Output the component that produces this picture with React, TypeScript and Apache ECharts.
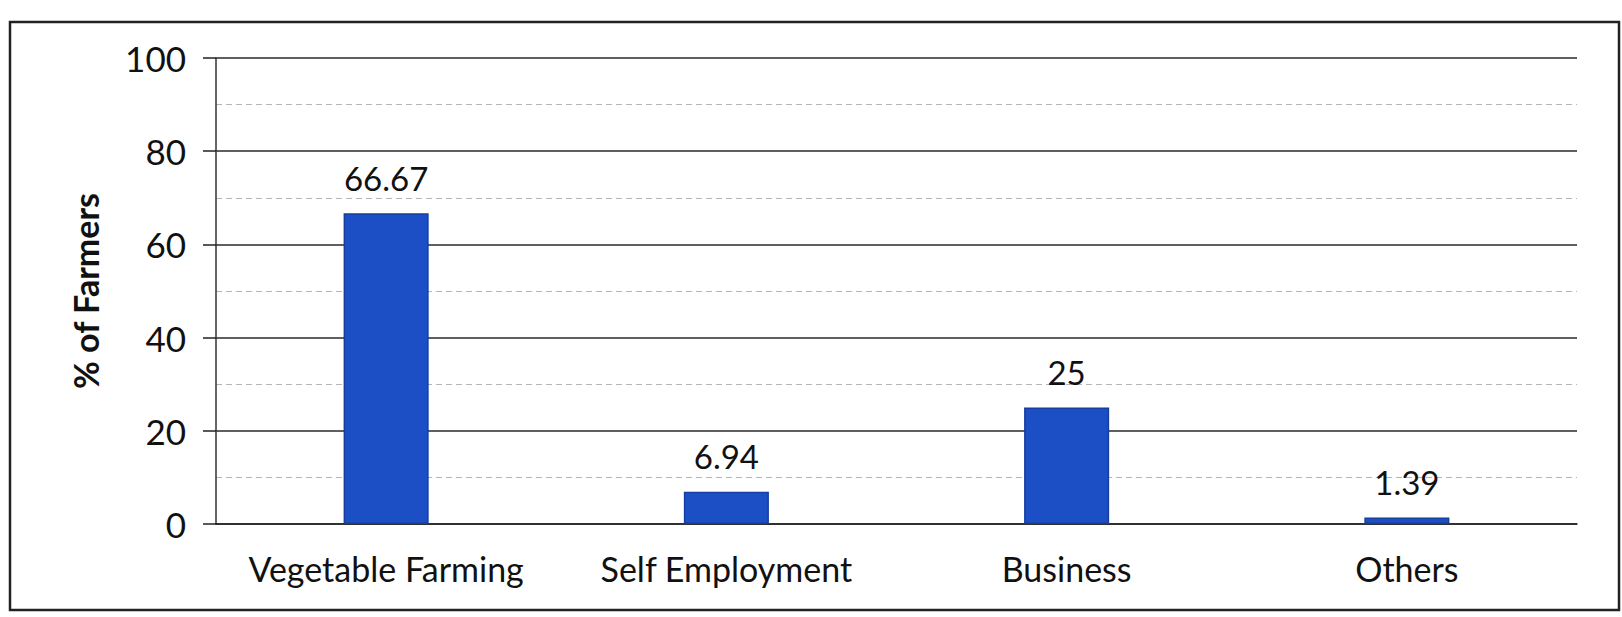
import React, { useEffect, useRef } from "react";
import * as echarts from "echarts";

const categories = ["Vegetable Farming", "Self Employment", "Business", "Others"];
const values = [66.67, 6.94, 25, 1.39];
const valueLabels = ["66.67", "6.94", "25", "1.39"];
const yTicks = [0, 20, 40, 60, 80, 100];
const yTitle = "% of Farmers";

export default function App() {
  const ref = useRef<HTMLDivElement>(null);
  useEffect(() => {
    if (!ref.current) return;
    const chart = echarts.init(ref.current, null, { renderer: "svg" });
    const font = "Lato, 'Open Sans', sans-serif";
    chart.setOption({
      animation: false,
      backgroundColor: "#ffffff",
      textStyle: { fontFamily: font },
      graphic: [
        {
          type: "rect",
          shape: { x: 10, y: 22, width: 1609, height: 588 },
          style: { fill: "none", stroke: "#222", lineWidth: 2.5 },
          z: -1,
        },
      ],
      grid: { left: 216, right: 45, top: 58, bottom: 93, containLabel: false },
      xAxis: {
        type: "category",
        data: categories,
        axisLine: { show: true, lineStyle: { color: "#222", width: 1.5 } },
        axisTick: { show: false },
        axisLabel: {
          color: "#111",
          fontSize: 34,
          margin: 27,
          interval: 0,
          hideOverlap: false,
          fontFamily: font,
        },
      },
      yAxis: {
        type: "value",
        min: yTicks[0],
        max: yTicks[yTicks.length - 1],
        interval: 20,
        name: yTitle,
        nameLocation: "middle",
        nameGap: 114,
        nameRotate: 90,
        nameTextStyle: { fontSize: 34, fontWeight: "bold", color: "#111", fontFamily: font },
        axisLine: { show: true, lineStyle: { color: "#333", width: 1.5 } },
        axisTick: { show: true, inside: false, length: 13, lineStyle: { color: "#222", width: 1.5 } },
        axisLabel: { color: "#111", fontSize: 35, margin: 30, fontFamily: font },
        splitLine: { show: true, lineStyle: { color: "#2a2a2a", width: 1.5 } },
        minorTick: { show: false, splitNumber: 2 },
        minorSplitLine: { show: true, lineStyle: { color: "#b5b5b5", width: 1, type: [6, 4] } },
      },
      series: [
        {
          type: "bar",
          data: values.map((v, i) => ({ value: v, label: { formatter: valueLabels[i] } })),
          barWidth: "25%",
          itemStyle: { color: "#1c4fc6", borderColor: "#153e9e", borderWidth: 1.5 },
          label: {
            show: true,
            position: "top",
            distance: 19,
            color: "#111",
            fontSize: 33,
            fontFamily: font,
          },
        },
      ],
    });
    return () => chart.dispose();
  }, []);
  return (
    <div
      ref={ref}
      style={{ position: "fixed", left: 0, top: 0, width: 1622, height: 617 }}
    />
  );
}
